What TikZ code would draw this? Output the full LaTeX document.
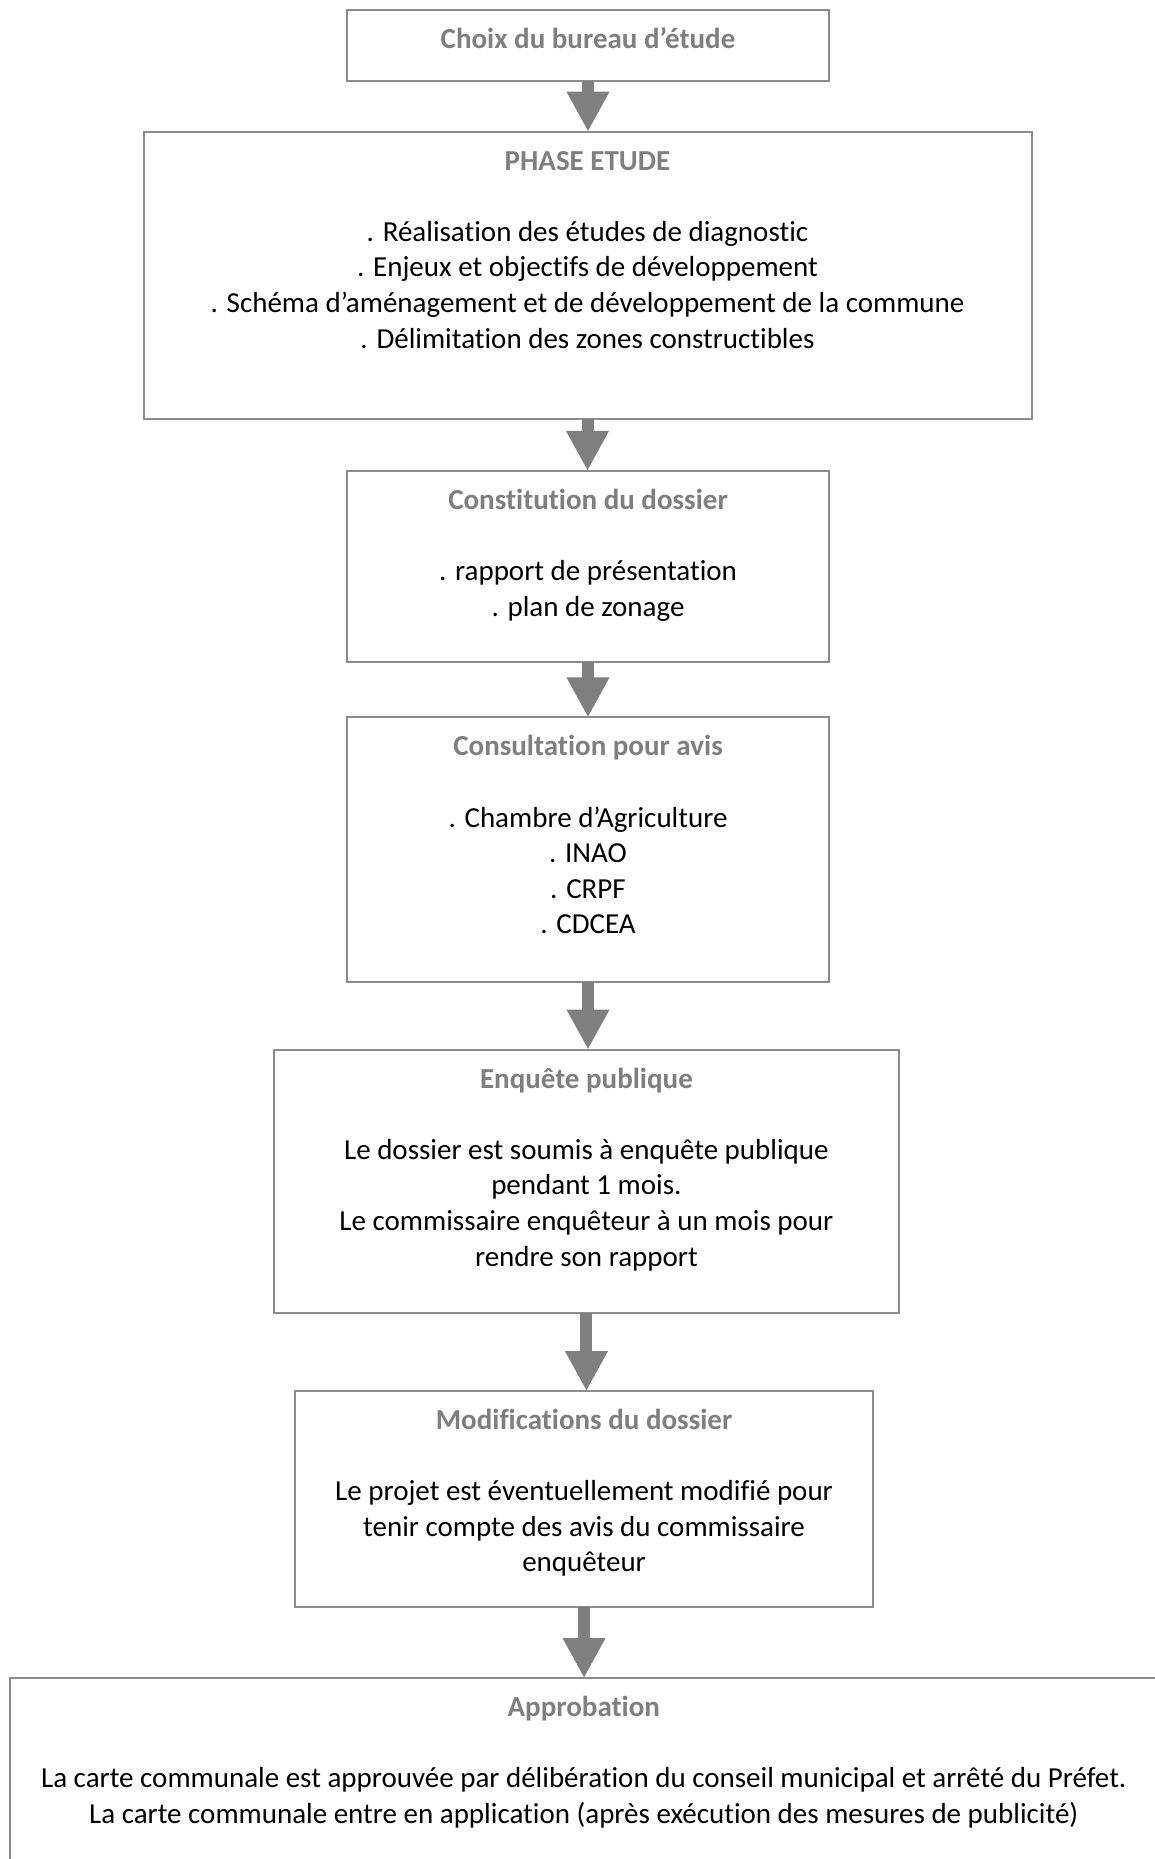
\documentclass[tikz,border=0pt]{standalone}
\usepackage{fontspec}
\setmainfont[Ligatures={NoCommon}]{Carlito}
\usetikzlibrary{arrows.meta}
\definecolor{bordergray}{HTML}{8C8C8C}
\definecolor{titlegray}{HTML}{7F7F7F}
\definecolor{arrowgray}{HTML}{7F7F7F}
\newcommand\boxtitle[1]{\rule{0pt}{14pt}\textbf{\color{titlegray}#1}}
\begin{document}
\begin{tikzpicture}[x=0.5pt,y=-0.5pt,
  stepbox/.style={draw=bordergray, line width=1pt, fill=white, inner sep=0pt, outer sep=0pt, anchor=north west},
  boxtext/.style={anchor=north, inner sep=0pt, outer sep=0pt, align=center, font=\fontsize{14.5pt}{17.8pt}\selectfont},
  flowarrow/.style={draw=arrowgray, fill=arrowgray, line width=6pt, -{Triangle[width=20pt,length=20pt]}}]
\useasboundingbox (0,0) rectangle (1155,1859);
\clip (0,0) rectangle (1155,1859);
% boxes
\node[stepbox, minimum width=241pt, minimum height=35.5pt] (b1) at (347,10) {};
\node[stepbox, minimum width=444pt, minimum height=143.5pt] (b2) at (143.5,131.6) {};
\node[stepbox, minimum width=241pt, minimum height=95.5pt] (b3) at (347,470.8) {};
\node[stepbox, minimum width=241pt, minimum height=132.25pt] (b4) at (347,717.4) {};
\node[stepbox, minimum width=312.5pt, minimum height=131.6pt] (b5) at (273.9,1049.5) {};
\node[stepbox, minimum width=288.75pt, minimum height=107.9pt] (b6) at (295.3,1391) {};
\node[stepbox, minimum width=574.25pt, minimum height=106pt] (b7) at (9.5,1678) {};
% texts
\node[boxtext] (t1) at ([yshift=-5.25pt]b1.north) {\boxtitle{Choix du bureau d’étude}};
\node[boxtext] (t2) at ([yshift=-5.25pt]b2.north) {\boxtitle{PHASE ETUDE}\\[17.8pt]
. Réalisation des études de diagnostic\\
. Enjeux et objectifs de développement\\
. Schéma d’aménagement et de développement de la commune\\
. Délimitation des zones constructibles};
\node[boxtext] (t3) at ([yshift=-5.25pt]b3.north) {\boxtitle{Constitution du dossier}\\[17.8pt]
. rapport de présentation\\
. plan de zonage};
\node[boxtext] (t4) at ([yshift=-5.25pt]b4.north) {\boxtitle{Consultation pour avis}\\[17.8pt]
. Chambre d’Agriculture\\
. INAO\\
. CRPF\\
. CDCEA};
\node[boxtext] (t5) at ([yshift=-5.25pt]b5.north) {\boxtitle{Enquête publique}\\[17.8pt]
Le dossier est soumis à enquête publique\\
pendant 1 mois.\\
Le commissaire enquêteur à un mois pour\\
rendre son rapport};
\node[boxtext] (t6) at ([yshift=-5.25pt]b6.north) {\boxtitle{Modifications du dossier}\\[17.8pt]
Le projet est éventuellement modifié pour\\
tenir compte des avis du commissaire\\
enquêteur};
\node[boxtext] (t7) at ([yshift=-5.25pt]b7.north) {\boxtitle{Approbation}\\[17.8pt]
La carte communale est approuvée par délibération du conseil municipal et arrêté du Préfet.\\
La carte communale entre en application (après exécution des mesures de publicité)};
% arrows
\draw[flowarrow] (b1.south) -- (b1.south |- b2.north);
\draw[flowarrow] (b2.south) -- (b2.south |- b3.north);
\draw[flowarrow] (b3.south) -- (b3.south |- b4.north);
\draw[flowarrow] (b4.south) -- (b4.south |- b5.north);
\draw[flowarrow] (b5.south) -- (b5.south |- b6.north);
\draw[flowarrow] (b6.south) -- (b6.south |- b7.north);
\end{tikzpicture}
\end{document}
